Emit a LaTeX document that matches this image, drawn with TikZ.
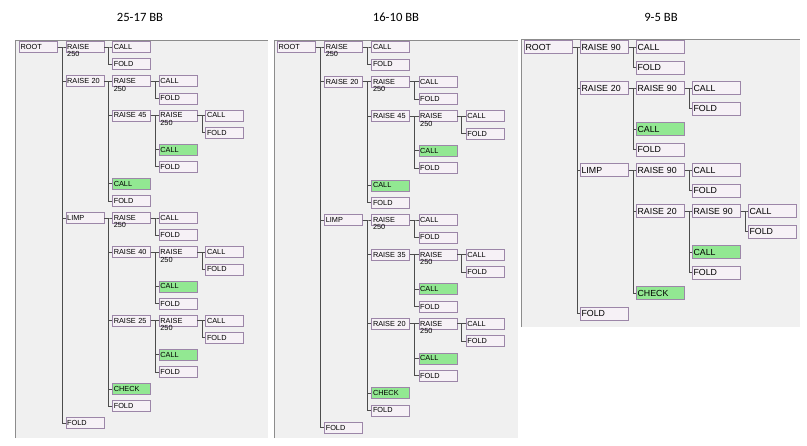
\documentclass[tikz,border=0pt]{standalone}
\usepackage{fontspec}
\setmainfont{Liberation Sans}
\newfontfamily\ttl{Carlito}
\definecolor{bxfill}{HTML}{F6F1F6}
\definecolor{bxline}{HTML}{9C86A8}
\definecolor{grn}{HTML}{92E892}
\definecolor{pan}{HTML}{F0F0F0}
\definecolor{panline}{HTML}{8C8C8C}
\newcommand\bx[5][]{\node[bx,#1] (#2) at ({\X+\DX*#3},{\Y+\DY*#4}) {#5};}
\newcommand\kids[2]{\foreach \c in {#2}{\draw[ln] (#1.east) -- ++(\HG,0) |- (\c.west);}}
\begin{document}
\begin{tikzpicture}[x=0.75pt,y=-0.75pt,
  bx/.style={draw=bxline,fill=bxfill,anchor=west,inner sep=1pt,text depth=0pt,align=left,text width=\BW*0.75pt-2pt,minimum height=\BH*0.75pt,font=\fontsize{\FS}{\FS}\selectfont},
  g/.style={fill=grn},
  ln/.style={draw=black!70,line width=0.5pt},
  panel/.style={fill=pan,draw=none}]
\useasboundingbox (0,0) rectangle (807,446);
\fill[white] (0,0) rectangle (807,446);
\node[font=\ttl\fontsize{9.5}{10}\selectfont] at (140,17) {25-17 BB};
\node[font=\ttl\fontsize{9.5}{10}\selectfont] at (396,17) {16-10 BB};
\node[font=\ttl\fontsize{9.5}{10}\selectfont] at (661,17) {9-5 BB};
% panel backgrounds
\fill[panel] (15,40) rectangle (268,438);
\draw[panline] (15,438) -- (15,40) -- (268,40);
\fill[panel] (274,40) rectangle (518,438);
\draw[panline] (274,438) -- (274,40) -- (518,40);
\fill[panel] (521,39) rectangle (800,327);
\draw[panline] (521,327) -- (521,39) -- (800,39);
% ---------- panel 1
\def\X{19}\def\DX{46.6}\def\Y{47}\def\DY{17.1}\def\BW{38}\def\BH{11}\def\FS{5.5}\def\HG{4.5}
\bx{a0}{0}{0}{ROOT}
\bx{a1}{1}{0}{RAISE 250}\bx{a2}{2}{0}{CALL}\bx{a3}{2}{1}{FOLD}
\bx{a4}{1}{2}{RAISE 20}\bx{a5}{2}{2}{RAISE 250}\bx{a6}{3}{2}{CALL}\bx{a7}{3}{3}{FOLD}
\bx{a8}{2}{4}{RAISE 45}\bx{a9}{3}{4}{RAISE 250}\bx{a10}{4}{4}{CALL}\bx{a11}{4}{5}{FOLD}
\bx[g]{a12}{3}{6}{CALL}\bx{a13}{3}{7}{FOLD}
\bx[g]{a14}{2}{8}{CALL}\bx{a15}{2}{9}{FOLD}
\bx{a16}{1}{10}{LIMP}\bx{a17}{2}{10}{RAISE 250}\bx{a18}{3}{10}{CALL}\bx{a19}{3}{11}{FOLD}
\bx{a20}{2}{12}{RAISE 40}\bx{a21}{3}{12}{RAISE 250}\bx{a22}{4}{12}{CALL}\bx{a23}{4}{13}{FOLD}
\bx[g]{a24}{3}{14}{CALL}\bx{a25}{3}{15}{FOLD}
\bx{a26}{2}{16}{RAISE 25}\bx{a27}{3}{16}{RAISE 250}\bx{a28}{4}{16}{CALL}\bx{a29}{4}{17}{FOLD}
\bx[g]{a30}{3}{18}{CALL}\bx{a31}{3}{19}{FOLD}
\bx[g]{a32}{2}{20}{CHECK}\bx{a33}{2}{21}{FOLD}
\bx{a34}{1}{22}{FOLD}
\kids{a0}{a1,a4,a16,a34}\kids{a1}{a2,a3}\kids{a4}{a5,a8,a14,a15}\kids{a5}{a6,a7}
\kids{a8}{a9,a12,a13}\kids{a9}{a10,a11}
\kids{a16}{a17,a20,a26,a32,a33}\kids{a17}{a18,a19}\kids{a20}{a21,a24,a25}\kids{a21}{a22,a23}
\kids{a26}{a27,a30,a31}\kids{a27}{a28,a29}
% ---------- panel 2
\def\X{277}\def\DX{47.2}\def\Y{47}\def\DY{17.3}
\bx{b0}{0}{0}{ROOT}
\bx{b1}{1}{0}{RAISE 250}\bx{b2}{2}{0}{CALL}\bx{b3}{2}{1}{FOLD}
\bx{b4}{1}{2}{RAISE 20}\bx{b5}{2}{2}{RAISE 250}\bx{b6}{3}{2}{CALL}\bx{b7}{3}{3}{FOLD}
\bx{b8}{2}{4}{RAISE 45}\bx{b9}{3}{4}{RAISE 250}\bx{b10}{4}{4}{CALL}\bx{b11}{4}{5}{FOLD}
\bx[g]{b12}{3}{6}{CALL}\bx{b13}{3}{7}{FOLD}
\bx[g]{b14}{2}{8}{CALL}\bx{b15}{2}{9}{FOLD}
\bx{b16}{1}{10}{LIMP}\bx{b17}{2}{10}{RAISE 250}\bx{b18}{3}{10}{CALL}\bx{b19}{3}{11}{FOLD}
\bx{b20}{2}{12}{RAISE 35}\bx{b21}{3}{12}{RAISE 250}\bx{b22}{4}{12}{CALL}\bx{b23}{4}{13}{FOLD}
\bx[g]{b24}{3}{14}{CALL}\bx{b25}{3}{15}{FOLD}
\bx{b26}{2}{16}{RAISE 20}\bx{b27}{3}{16}{RAISE 250}\bx{b28}{4}{16}{CALL}\bx{b29}{4}{17}{FOLD}
\bx[g]{b30}{3}{18}{CALL}\bx{b31}{3}{19}{FOLD}
\bx[g]{b32}{2}{20}{CHECK}\bx{b33}{2}{21}{FOLD}
\bx{b34}{1}{22}{FOLD}
\kids{b0}{b1,b4,b16,b34}\kids{b1}{b2,b3}\kids{b4}{b5,b8,b14,b15}\kids{b5}{b6,b7}
\kids{b8}{b9,b12,b13}\kids{b9}{b10,b11}
\kids{b16}{b17,b20,b26,b32,b33}\kids{b17}{b18,b19}\kids{b20}{b21,b24,b25}\kids{b21}{b22,b23}
\kids{b26}{b27,b30,b31}\kids{b27}{b28,b29}
% ---------- panel 3
\def\X{524}\def\DX{56}\def\Y{47}\def\DY{20.5}\def\BW{48}\def\BH{13}\def\FS{6.6}\def\HG{4.5}
\bx{c0}{0}{0}{ROOT}
\bx{c1}{1}{0}{RAISE 90}\bx{c2}{2}{0}{CALL}\bx{c3}{2}{1}{FOLD}
\bx{c4}{1}{2}{RAISE 20}\bx{c5}{2}{2}{RAISE 90}\bx{c6}{3}{2}{CALL}\bx{c7}{3}{3}{FOLD}
\bx[g]{c8}{2}{4}{CALL}\bx{c9}{2}{5}{FOLD}
\bx{c10}{1}{6}{LIMP}\bx{c11}{2}{6}{RAISE 90}\bx{c12}{3}{6}{CALL}\bx{c13}{3}{7}{FOLD}
\bx{c14}{2}{8}{RAISE 20}\bx{c15}{3}{8}{RAISE 90}\bx{c16}{4}{8}{CALL}\bx{c17}{4}{9}{FOLD}
\bx[g]{c18}{3}{10}{CALL}\bx{c19}{3}{11}{FOLD}
\bx[g]{c20}{2}{12}{CHECK}
\bx{c21}{1}{13}{FOLD}
\kids{c0}{c1,c4,c10,c21}\kids{c1}{c2,c3}\kids{c4}{c5,c8,c9}\kids{c5}{c6,c7}
\kids{c10}{c11,c14,c20}\kids{c11}{c12,c13}\kids{c14}{c15,c18,c19}\kids{c15}{c16,c17}
\end{tikzpicture}
\end{document}
